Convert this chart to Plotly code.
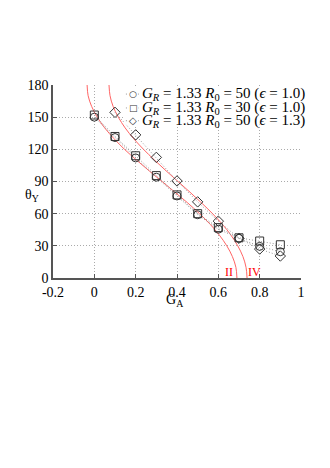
import plotly.graph_objects as go

# ── Data ──────────────────────────────────────────────────────────────
g_a = [0.0, 0.1, 0.2, 0.3, 0.4, 0.5, 0.6, 0.7, 0.8, 0.9]

theta_r50_e10 = [150, 131, 112, 94, 76.5, 59, 45.5, 37, 29.5, 24.5]
theta_r30_e10 = [152, 132, 114, 95.5, 77.5, 60, 47, 37.5, 34.5, 31]
theta_r50_e13 = [None, 154.5, 133.5, 112.5, 90.5, 71, 53, 37, 27, 20.5]

# theory curves II and IV
curve_theta = [180, 170, 160, 150, 140, 130, 120, 110, 100, 90, 80, 70, 60, 50, 40, 30, 20, 10, 0]
curve_ii_ga = [-0.035, -0.030, -0.013, 0.014, 0.050, 0.095, 0.146, 0.204, 0.265, 0.328,
               0.390, 0.452, 0.509, 0.561, 0.605, 0.641, 0.668, 0.685, 0.690]
curve_iv_ga = [0.071, 0.076, 0.091, 0.116, 0.149, 0.190, 0.238, 0.291, 0.347, 0.405,
               0.463, 0.519, 0.572, 0.620, 0.661, 0.694, 0.719, 0.734, 0.739]

legend_labels = [
    "<i>G</i><sub><i>R</i></sub> = 1.33 <i>R</i><sub>0</sub> = 50 (<i>ϵ</i> = 1.0)",
    "<i>G</i><sub><i>R</i></sub> = 1.33 <i>R</i><sub>0</sub> = 30 (<i>ϵ</i> = 1.0)",
    "<i>G</i><sub><i>R</i></sub> = 1.33 <i>R</i><sub>0</sub> = 50 (<i>ϵ</i> = 1.3)",
]
legend_glyphs = ["○", "□", "◇"]
symbols = ["circle-open", "square-open", "diamond-open"]
series = [theta_r50_e10, theta_r30_e10, theta_r50_e13]

SERIF = "Liberation Serif, Times New Roman, serif"
RED = "#ff6464"
INK = "#333333"
DOT = "#999999"
FINE_DOT = "1px,2px"

fig = go.Figure()

# ── Theory curves ─────────────────────────────────────────────────────
for xs in (curve_ii_ga, curve_iv_ga):
    fig.add_trace(go.Scatter(
        x=xs, y=curve_theta, mode="lines",
        line=dict(color=RED, width=1, shape="spline"),
        showlegend=False, hoverinfo="skip",
    ))

# ── Simulation points ─────────────────────────────────────────────────
for ys in series:
    fig.add_trace(go.Scatter(
        x=g_a, y=ys, mode="lines", connectgaps=True,
        line=dict(color=DOT, width=1, dash=FINE_DOT),
        showlegend=False, hoverinfo="skip",
    ))
for name, ys, sym in zip(legend_labels, series, symbols):
    fig.add_trace(go.Scatter(
        x=g_a, y=ys, mode="markers", name=name, showlegend=False,
        marker=dict(symbol=sym, size=8, color=INK, line=dict(width=1, color=INK)),
    ))

axis_common = dict(
    showgrid=True, gridcolor="#aaaaaa", griddash=FINE_DOT, gridwidth=1,
    zeroline=False, showline=True, linecolor="#555555", linewidth=1.5,
    ticks="inside", ticklen=4, tickcolor="#555555",
    tickfont=dict(family=SERIF, size=14, color="black"),
)

# ── Hand-built legend (tight rows like the reference) ─────────────────
row_y = [0.953, 0.881, 0.815]
glyph_size = [9, 9, 10]
shapes = [dict(type="rect", xref="paper", yref="paper", x0=0.286, x1=1.3, y0=0.795, y1=0.99,
               fillcolor="white", line=dict(width=0), layer="above")]
annotations = []
for glyph, gsize, label, y in zip(legend_glyphs, glyph_size, legend_labels, row_y):
    shapes.append(dict(type="line", xref="paper", yref="paper", x0=0.294, x1=0.352, y0=y, y1=y,
                       line=dict(color=DOT, width=1, dash=FINE_DOT), layer="above"))
    annotations.append(dict(text=glyph, x=0.323, y=y, xref="paper", yref="paper",
                            xanchor="center", yanchor="middle", showarrow=False,
                            bgcolor="white", borderpad=0,
                            font=dict(family="DejaVu Sans", size=gsize, color=INK)))
    annotations.append(dict(text=label, x=0.352, y=y, xref="paper", yref="paper",
                            xanchor="left", yanchor="middle", showarrow=False,
                            font=dict(family=SERIF, size=15, color="black")))

annotations += [
    dict(text="θ<sub>Y</sub>", x=-0.085, y=0.43, xref="paper", yref="paper",
         xanchor="center", yanchor="middle", showarrow=False,
         font=dict(family=SERIF, size=14, color="black")),
    dict(text="G<sub>A</sub>", x=0.39, y=-0.06, xref="x", yref="paper",
         xanchor="center", yanchor="top", showarrow=False,
         font=dict(family=SERIF, size=14, color="black")),
    dict(text="II", x=0.65, y=6, xref="x", yref="y",
         showarrow=False, font=dict(family=SERIF, size=12, color="red")),
    dict(text="IV", x=0.775, y=6, xref="x", yref="y",
         showarrow=False, font=dict(family=SERIF, size=12, color="red")),
]

fig.update_layout(
    width=322, height=460,
    paper_bgcolor="white", plot_bgcolor="white",
    margin=dict(l=45, r=29, t=77, b=190),
    showlegend=False,
    xaxis=dict(range=[-0.2, 1.0], tickvals=[-0.2, 0, 0.2, 0.4, 0.6, 0.8, 1.0],
               ticktext=["-0.2", "0", "0.2", "0.4", "0.6", "0.8", "1"], **axis_common),
    yaxis=dict(range=[0, 180], tickvals=[0, 30, 60, 90, 120, 150, 180], **axis_common),
    shapes=shapes,
    annotations=annotations,
)

fig.write_html("out.html")
